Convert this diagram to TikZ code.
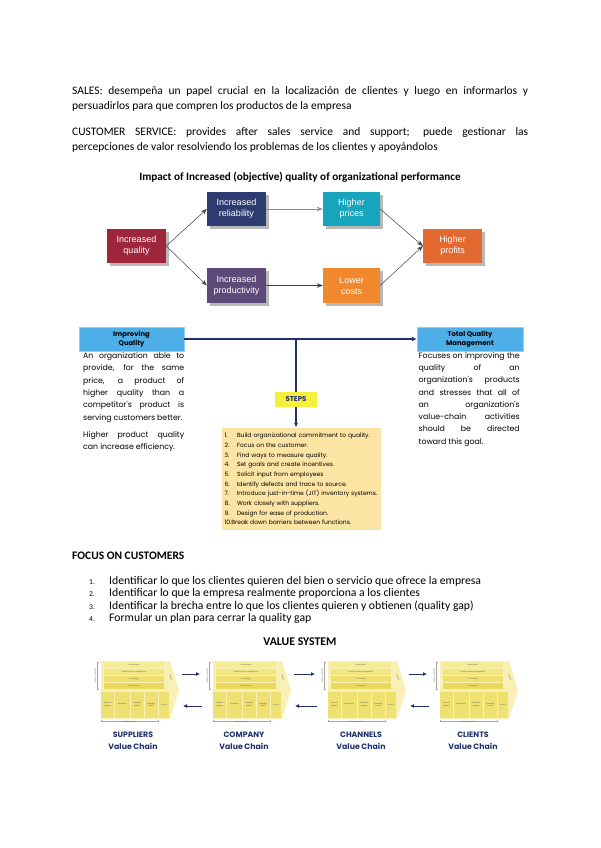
\documentclass[tikz,border=0pt]{standalone}
\usepackage{fontspec}
\setmainfont{Carlito}
\newfontfamily\gothic{Poppins}
\newfontfamily\arialish{Liberation Sans}
\usetikzlibrary{shadows,arrows.meta}
\definecolor{qualityred}{RGB}{158,38,58}
\definecolor{reliablenavy}{RGB}{44,60,112}
\definecolor{priceteal}{RGB}{22,165,188}
\definecolor{profitorange}{RGB}{226,106,48}
\definecolor{prodpurple}{RGB}{94,74,122}
\definecolor{costorange}{RGB}{242,136,46}
\definecolor{tqmblue}{RGB}{78,174,232}
\definecolor{stepyellow}{RGB}{246,240,60}
\definecolor{listpeach}{RGB}{252,228,164}
\definecolor{chainnavy}{RGB}{30,48,110}
\definecolor{vcpale}{RGB}{248,240,180}
\definecolor{vcrowa}{RGB}{245,236,150}
\definecolor{vcrowb}{RGB}{242,230,130}
\definecolor{vcrowc}{RGB}{239,223,110}
\definecolor{vcrowd}{RGB}{235,215,90}
\definecolor{vcprim}{RGB}{239,224,114}

\tikzset{
  para/.style={font=\fontsize{11.5}{15}\selectfont, text width=456pt, align=justify, inner sep=0pt},
  impactbox/.style={text=white, font=\arialish\fontsize{9}{11}\selectfont, align=center,
    minimum width=59pt, minimum height=34pt, inner sep=1pt,
    drop shadow={shadow xshift=2.5pt, shadow yshift=-2.5pt, fill=black!55, opacity=.5}},
  impactarrow/.style={-{Stealth[length=6pt,width=4.5pt]}, draw=black!75, line width=.5pt},
  headbox/.style={fill=tqmblue, draw=tqmblue!60!white, font=\gothic\bfseries\fontsize{6.8}{9}\selectfont,
    align=center, minimum height=24pt, inner sep=1pt},
  bodytext/.style={font=\gothic\fontsize{7.8}{12.3}\selectfont, align=justify, inner sep=0pt},
  navyline/.style={draw=chainnavy, line width=1.3pt},
  chainarrow/.style={draw=chainnavy, line width=1pt, -{Latex[length=4pt,width=4pt]}},
  chainlabel/.style={text=chainnavy, font=\gothic\bfseries\fontsize{7.8}{12}\selectfont, align=center, inner sep=0pt},
  vctiny/.style={font=\arialish\fontsize{1.8}{2.1}\selectfont, text=black!65, inner sep=0pt, align=center},
  pics/valuechain/.style={code={
    % chevron behind the activities
    \fill[vcpale] (5,-1) -- (74,-1) -- (83,28) -- (74,57) -- (5,57) -- cycle;
    \foreach \top/\bot/\col/\txt [count=\k] in {0/6.3/vcrowa/Infrastructure, 6.8/13/vcrowb/Human resource management,
        13.5/20/vcrowc/Technology, 20.5/27/vcrowd/Procurement}{
      \fill[\col] (8,\top) rectangle (68,\bot);
      \node (-row\k) [vctiny] at (38,{(\top+\bot)/2}) {\txt};
    }
    \foreach \l/\r/\txt [count=\k] in {5/18/{Inbound\\logistics}, 18.5/34/Operations, 34.5/48/{Outbound\\logistics},
        48.5/62/{Marketing\\\& sales}, 62.5/73/Service}{
      \fill[vcprim] (\l,29.5) rectangle (\r,56);
      \node (-col\k) [vctiny] at ({(\l+\r)/2},42.5) {\txt};
    }
    \node (-margin) [vctiny, rotate=-70] at (75,16) {Margin};
    \draw[black!35, line width=.3pt] (3,0) -- (1.5,0) -- (1.5,27) -- (3,27);
    \node (-support) [vctiny, rotate=90] at (-.5,13.5) {Support activities};
    \draw[black!35, line width=.3pt] (5,57.5) -- (5,59) -- (62,59) -- (62,57.5);
    \node (-primary) [vctiny] at (33.5,60.5) {Primary activities};
    \coordinate (-rtop) at (86,12);
    \coordinate (-ltop) at (-8,12);
    \coordinate (-rbot) at (87,44);
    \coordinate (-lbot) at (-6,44);
  }}
}

\begin{document}
\begin{tikzpicture}[x=1pt,y=-1pt]
  \fill[white] (0,0) rectangle (600,848);
  \useasboundingbox (0,0) rectangle (600,848);

  % opening paragraphs
  \node (sales) [para, anchor=north west] at (72,86) {SALES: desempeña un papel crucial en la localización de clientes y luego en informarlos y\linebreak persuadirlos para que compren los productos de la empresa};
  \node (service) [para, anchor=north west] at (72,127) {CUSTOMER SERVICE: provides after sales service and support; puede gestionar las\linebreak percepciones de valor resolviendo los problemas de los clientes y apoyándolos};

  % impact diagram
  \node (impacttitle) [font=\bfseries\fontsize{11.2}{13}\selectfont] at (300,177) {Impact of Increased (objective) quality of organizational performance};
  \node (incqual) [impactbox, fill=qualityred] at (136.5,246) {Increased\\quality};
  \node (increl) [impactbox, fill=reliablenavy] at (236.5,209) {Increased\\reliability};
  \node (hiprice) [impactbox, fill=priceteal, minimum width=57pt] at (351.5,209) {Higher\\prices};
  \node (hiprofit) [impactbox, fill=profitorange] at (452.5,246) {Higher\\profits};
  \node (incprod) [impactbox, fill=prodpurple, minimum height=35pt] at (236.5,285.5) {Increased\\productivity};
  \node (locost) [impactbox, fill=costorange, minimum width=57pt, minimum height=35pt] at (351.5,285.5) {Lower\\costs};
  \draw[impactarrow] (incqual.east) -- (increl.west);
  \draw[impactarrow] (incqual.east) -- (incprod.west);
  \draw[impactarrow, draw=black!45] (increl.east) -- (hiprice.west);
  \draw[impactarrow] (incprod.east) -- (locost.west);
  \draw[impactarrow] (hiprice.east) -- (hiprofit.west);
  \draw[impactarrow] (locost.east) -- (hiprofit.west);

  % quality and TQM
  \node (impq) [headbox, minimum width=105pt] at (131.5,339) {Improving\\Quality};
  \node (tqm) [headbox, minimum width=106pt] at (470,339) {Total Quality\\Management};
  \node (steps) [fill=stepyellow, text=chainnavy, font=\gothic\bfseries\fontsize{7}{8}\selectfont,
    minimum width=42pt, minimum height=15pt, inner sep=0pt] at (296,399.5) {STEPS};
  \node (steplist) [fill=listpeach, font=\gothic\fontsize{6}{9.65}\selectfont, text width=154pt, align=left,
    minimum width=159pt, minimum height=102pt, inner xsep=2.5pt, inner ysep=0pt] at (301.5,479) {%
    \makebox[12.5pt][l]{1.}Build organizational commitment to quality.\\
    \makebox[12.5pt][l]{2.}Focus on the customer.\\
    \makebox[12.5pt][l]{3.}Find ways to measure quality.\\
    \makebox[12.5pt][l]{4.}Set goals and create incentives.\\
    \makebox[12.5pt][l]{5.}Solicit input from employees\\
    \makebox[12.5pt][l]{6.}Identify defects and trace to source.\\
    \makebox[12.5pt][l]{7.}Introduce just-in-time (JIT) inventory systems.\\
    \makebox[12.5pt][l]{8.}Work closely with suppliers.\\
    \makebox[12.5pt][l]{9.}Design for ease of production.\\
    10.Break down barriers between functions.};
  \coordinate (split) at (steps.north |- impq.east);
  \draw[navyline, -{Latex[length=5pt,width=5pt]}] (impq.east) -- (tqm.west);
  \draw[navyline] (split) -- (steps.north);
  \draw[navyline, -{Latex[length=5pt,width=4pt]}] (steps.south) -- (steps.south |- steplist.north);
  \node (impqtext) [bodytext, text width=101pt, anchor=north west] at (83,352.5) {An organization able to\linebreak provide, for the same\linebreak price, a product of\linebreak higher quality than a\linebreak competitor's product is\linebreak serving customers better.\par\vspace{5pt}Higher product quality\linebreak can increase efficiency.};
  \node (tqmtext) [bodytext, text width=101pt, anchor=north west] at (418.5,352) {Focuses on improving the\linebreak quality of an\linebreak organization's products\linebreak and stresses that all of\linebreak an organization's\linebreak value-chain activities\linebreak should be directed\linebreak toward this goal.};

  % focus on customers
  \node (focus) [anchor=base west, font=\bfseries\fontsize{11.5}{13}\selectfont, inner sep=0pt] at (72,559.5) {FOCUS ON CUSTOMERS};
  \foreach \n/\txt in {1/{Identificar lo que los clientes quieren del bien o servicio que ofrece la empresa},
      2/{Identificar lo que la empresa realmente proporciona a los clientes},
      3/{Identificar la brecha entre lo que los clientes quieren y obtienen (quality gap)},
      4/{Formular un plan para cerrar la quality gap}}{
    \node (focusnum\n) [anchor=base west, font=\fontsize{7.5}{9}\selectfont, inner sep=0pt] at (89,572.5+12.2*\n) {\n.};
    \node (focus\n) [anchor=base west, font=\fontsize{11.7}{12}\selectfont, inner sep=0pt] at (109,572.5+12.2*\n) {\txt};
  }

  % value system
  \node (vstitle) [font=\bfseries\fontsize{11.8}{13}\selectfont] at (300,642) {VALUE SYSTEM};
  \pic (sup) at (96,662) {valuechain};
  \pic (comp) at (208,662) {valuechain};
  \pic (chan) at (323,662) {valuechain};
  \pic (cli) at (435,662) {valuechain};
  \draw[chainarrow] (sup-rtop) -- (comp-ltop);
  \draw[chainarrow] (comp-rtop) -- (chan-ltop);
  \draw[chainarrow] (chan-rtop) -- (cli-ltop);
  \draw[chainarrow] (comp-lbot) -- (sup-rbot);
  \draw[chainarrow] (chan-lbot) -- (comp-rbot);
  \draw[chainarrow] (cli-lbot) -- (chan-rbot);
  \node (suplbl) [chainlabel] at (133,741) {SUPPLIERS\\Value Chain};
  \node (complbl) [chainlabel] at (244,741) {COMPANY\\Value Chain};
  \node (chanlbl) [chainlabel] at (361,741) {CHANNELS\\Value Chain};
  \node (clilbl) [chainlabel] at (473,741) {CLIENTS\\Value Chain};
\end{tikzpicture}
\end{document}
